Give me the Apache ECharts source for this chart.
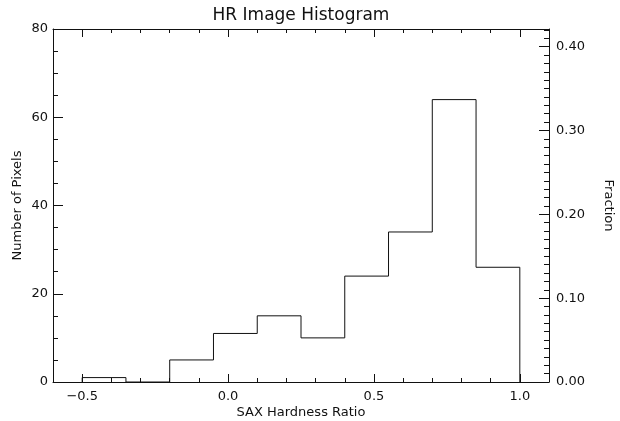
<!DOCTYPE html>
<html>
<head>
<meta charset="utf-8">
<script src="https://cdn.jsdelivr.net/npm/echarts@6/dist/echarts.min.js"></script>
<style>html,body{margin:0;padding:0;background:#fff;}#c{width:620px;height:421px;}</style>
</head>
<body>
<div id="c"></div>
<script>
// ---- data ----
var binEdges = [-0.5, -0.35, -0.2, -0.05, 0.1, 0.25, 0.4, 0.55, 0.7, 0.85, 1.0];
var counts   = [1, 0, 5, 11, 15, 10, 24, 34, 64, 26];
var xMajorTicks = [-0.5, 0.0, 0.5, 1.0];
var xMinorTicks = [-0.5, -0.4, -0.3, -0.2, -0.1, 0.0, 0.1, 0.2, 0.3, 0.4, 0.5, 0.6, 0.7, 0.8, 0.9, 1.0];
var fracMajorTicks = [0.0, 0.1, 0.2, 0.3, 0.4];
var fracMinorTicks = [];
for (var k = 0; k <= 42; k++) fracMinorTicks.push(k / 100);

var titleText = 'HR Image Histogram';
var xName = 'SAX Hardness Ratio';
var yLeftName = 'Number of Pixels';
var yRightName = 'Fraction';

var countMax = 80;
var total = counts.reduce(function (a, b) { return a + b; }, 0);
var fracMax = countMax / total;

var stepData = [[binEdges[0], 0]];
for (var i = 0; i < counts.length; i++) stepData.push([binEdges[i], counts[i]]);
stepData.push([binEdges[binEdges.length - 1], 0]);

var FONT = 'DejaVu Sans';
var INK = '#111';
var lineStyle = { color: INK, width: 1 };

function fmtX(v) {
  var s = Math.abs(v).toFixed(1);
  return (v < -1e-9 ? '\u2212' : '') + s;
}

var chart = echarts.init(document.getElementById('c'), null, { renderer: 'canvas' });
chart.setOption({
  animation: false,
  backgroundColor: '#fff',
  title: {
    text: titleText, left: 301, top: 7, padding: 0, textAlign: 'center',
    textStyle: { fontFamily: FONT, fontSize: 17, fontWeight: 'normal', color: INK }
  },
  grid: { left: 53, right: 71, top: 29, bottom: 39, containLabel: false, outerBoundsMode: 'none' },
  xAxis: [
    {
      type: 'value', position: 'bottom', min: -0.6, max: 1.1,
      axisLine: { show: true, onZero: false, lineStyle: lineStyle },
      axisTick: { show: true, inside: true, length: 4, customValues: xMinorTicks, lineStyle: lineStyle },
      axisLabel: { show: true, customValues: xMajorTicks, formatter: fmtX, margin: 8,
        fontFamily: FONT, fontSize: 13, color: INK },
      splitLine: { show: false },
      name: xName, nameLocation: 'middle', nameGap: 24, nameMoveOverlap: false,
      nameTextStyle: { fontFamily: FONT, fontSize: 13, color: INK }
    },
    {
      type: 'value', position: 'bottom', min: -0.6, max: 1.1, offset: 0,
      axisLine: { show: false, onZero: false },
      axisTick: { show: true, inside: true, length: 8, customValues: xMajorTicks, lineStyle: lineStyle },
      axisLabel: { show: false }, splitLine: { show: false }
    },
    {
      type: 'value', position: 'top', min: -0.6, max: 1.1, offset: 0,
      axisLine: { show: true, onZero: false, lineStyle: lineStyle },
      axisTick: { show: true, inside: true, length: 4, customValues: xMinorTicks, lineStyle: lineStyle },
      axisLabel: { show: false }, splitLine: { show: false }
    },
    {
      type: 'value', position: 'top', min: -0.6, max: 1.1, offset: 0,
      axisLine: { show: false, onZero: false },
      axisTick: { show: true, inside: true, length: 8, customValues: xMajorTicks, lineStyle: lineStyle },
      axisLabel: { show: false }, splitLine: { show: false }
    }
  ],
  yAxis: [
    {
      type: 'value', position: 'left', min: 0, max: countMax, interval: 20,
      axisLine: { show: true, onZero: false, lineStyle: lineStyle },
      axisTick: { show: true, inside: true, length: 10, lineStyle: lineStyle },
      minorTick: { show: true, splitNumber: 4, length: 5, lineStyle: lineStyle },
      axisLabel: { margin: 5, fontFamily: FONT, fontSize: 13, color: INK },
      splitLine: { show: false }, minorSplitLine: { show: false },
      name: yLeftName, nameLocation: 'middle', nameGap: 29, nameRotate: 90, nameMoveOverlap: false,
      nameTextStyle: { fontFamily: FONT, fontSize: 13, color: INK }
    },
    {
      type: 'value', position: 'right', min: 0, max: fracMax, offset: 0,
      axisLine: { show: true, onZero: false, lineStyle: lineStyle },
      axisTick: { show: true, inside: true, length: 10, customValues: fracMajorTicks, lineStyle: lineStyle },
      axisLabel: { customValues: fracMajorTicks, formatter: function (v) { return v.toFixed(2); },
        margin: 7, fontFamily: FONT, fontSize: 13, color: INK },
      splitLine: { show: false },
      name: yRightName, nameLocation: 'middle', nameGap: 53, nameRotate: -90, nameMoveOverlap: false,
      nameTextStyle: { fontFamily: FONT, fontSize: 13, color: INK }
    },
    {
      type: 'value', position: 'right', min: 0, max: fracMax, offset: 0,
      axisLine: { show: false, onZero: false },
      axisTick: { show: true, inside: true, length: 5, customValues: fracMinorTicks, lineStyle: lineStyle },
      axisLabel: { show: false }, splitLine: { show: false }
    }
  ],
  series: [{
    type: 'line', xAxisIndex: 0, yAxisIndex: 0, step: 'end',
    data: stepData, showSymbol: false, symbol: 'none', silent: true,
    lineStyle: lineStyle, clip: false
  }]
});
</script>
</body>
</html>
